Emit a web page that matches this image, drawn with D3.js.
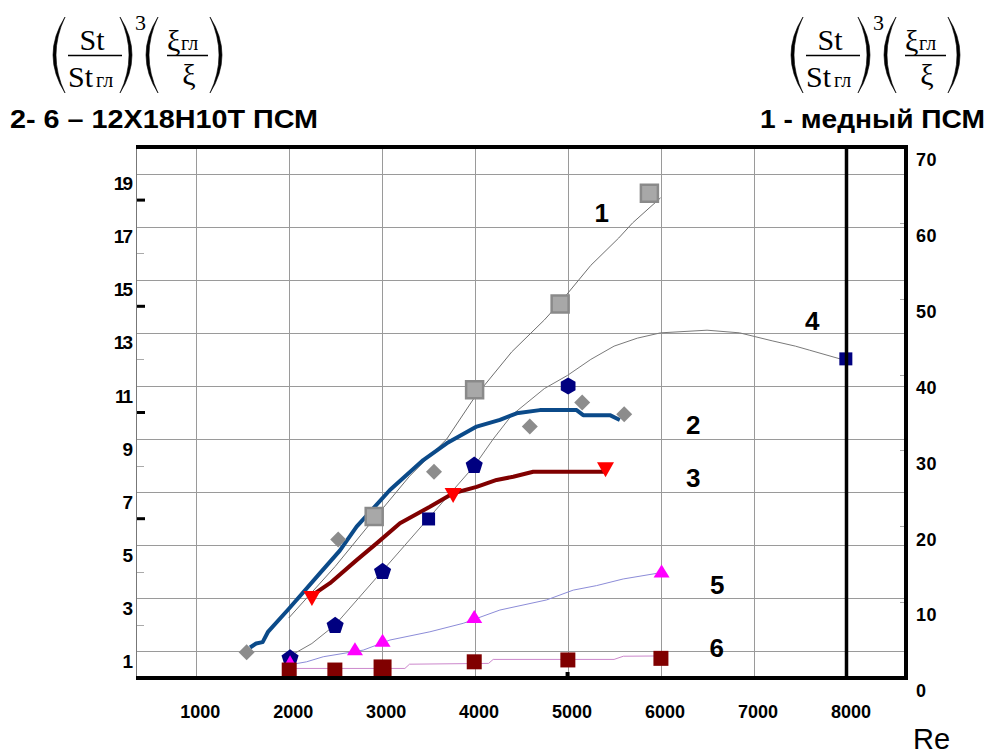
<!DOCTYPE html>
<html>
<head>
<meta charset="utf-8">
<script src="https://cdn.jsdelivr.net/npm/d3@7"></script>
<style>
  body { margin: 0; background: #fff; }
  svg { display: block; }
</style>
</head>
<body>
<div id="chart"></div>
<script>
// --- data ---
const reLabels = [1000, 2000, 3000, 4000, 5000, 6000, 7000, 8000];
const reGrid = [1000, 2000, 3000, 4000, 5000, 6000, 7000];
const leftTicks = [1, 3, 5, 7, 9, 11, 13, 15, 17, 19];
const leftMinorBold = [6, 10, 14, 18];
const leftMinorThin = [2, 4, 8, 12, 16];
const rightTicks = [0, 10, 20, 30, 40, 50, 60, 70];
const rightMinor = [10, 20, 30, 40, 50, 60];
const bottomMark = [5000];

// 1 - copper (right axis)
const curve1 = [[2000, 7.9], [2500, 14.7], [2920, 21.0], [3300, 26.6], [3700, 31.5], [4000, 37.0],
  [4400, 43.0], [4750, 47.2], [4920, 49.5], [5250, 54.4], [5550, 58.0], [5700, 60.0], [6000, 63.3]];
const points1 = [[2920, 21.3], [4000, 38.0], [4920, 49.3], [5880, 63.9]];

// 2..6 - steel (left axis)
const curve2 = [[1585, 1.15], [1650, 1.3], [1720, 1.35], [1780, 1.75], [2000, 2.6], [2337, 3.95],
  [2550, 4.8], [2731, 5.7], [3089, 7.08], [3448, 8.21], [3700, 8.84], [4022, 9.47], [4272, 9.72],
  [4452, 9.97], [4702, 10.09], [5097, 10.09], [5168, 9.9], [5455, 9.9], [5562, 9.72]];
const points2 = [[1548, 0.97], [2533, 5.22], [3563, 7.77], [4594, 9.47], [5157, 10.38], [5609, 9.93]];

const curve3 = [[2229, 3.06], [2444, 3.57], [2731, 4.44], [2946, 5.07], [3197, 5.83], [3519, 6.45],
  [3770, 6.96], [4022, 7.2], [4237, 7.46], [4415, 7.58], [4630, 7.77], [5408, 7.77]];
const points3 = [[2250, 3.05], [3769, 6.93], [5408, 7.9]];

const curve4 = [[2000, 0.8], [2250, 1.3], [2500, 2.0], [2750, 3.0], [3000, 4.0], [3250, 5.0],
  [3500, 6.0], [3750, 7.0], [4000, 8.0], [4200, 9.0], [4400, 9.9], [4750, 10.9], [5000, 11.4],
  [5250, 12.0], [5500, 12.5], [5750, 12.8], [6000, 13.0], [6500, 13.1], [6850, 13.0], [7200, 12.7],
  [7450, 12.5], [7600, 12.35], [8000, 11.95]];
const points4 = [[2015, 0.74], [2500, 1.97], [3010, 4.0], [3505, 5.99], [3996, 8.0], [5006, 11.0], [7993, 12.02]];
const marker4 = ['pentagon', 'pentagon', 'pentagon', 'square', 'pentagon', 'hexagon', 'square'];

const curve5 = [[2000, 0.49], [2193, 0.61], [2372, 0.8], [2802, 1.05], [3089, 1.43], [3519, 1.74],
  [3878, 2.06], [4272, 2.56], [4774, 2.94], [5061, 3.31], [5312, 3.48], [5598, 3.73], [5957, 3.94]];
const points5 = [[2015, 0.68], [2713, 1.05], [3010, 1.37], [3996, 2.27], [6011, 3.98]];

const curve6 = [[2000, 0.36], [3250, 0.36], [3300, 0.52], [4150, 0.55], [4200, 0.7], [5500, 0.7],
  [5600, 0.82], [6000, 0.83]];
const points6 = [[2006, 0.3], [2497, 0.3], [3010, 0.36], [3996, 0.61], [5003, 0.68], [6004, 0.74]];

const seriesLabels = [['1', 5367, 17.5], ['2', 6352, 9.53], ['3', 6352, 7.52], ['4', 7632, 13.46], ['5', 6610, 3.5], ['6', 6604, 1.14]];

// --- layout ---
const W = 990, H = 755;
const plot = {left: 136, right: 906, top: 147, bottom: 678};
const sans = '"Liberation Sans", Arial, sans-serif';
const serif = '"Liberation Serif", "Times New Roman", serif';

const svg = d3.select('#chart').append('svg').attr('width', W).attr('height', H);

const x = d3.scaleLinear().domain([358, 8640]).range([plot.left, plot.right]);
const yL = d3.scaleLinear().domain([0, 20]).range([plot.bottom, plot.top]);
const yR = d3.scaleLinear().domain([0, 70]).range([plot.bottom, plot.top]);

// grid
const grid = svg.append('g').attr('stroke', '#9a9a9a').attr('stroke-width', 1);
grid.selectAll('.h').data(leftTicks).join('line')
  .attr('x1', plot.left).attr('x2', plot.right)
  .attr('y1', d => Math.round(yL(d)) + 0.5).attr('y2', d => Math.round(yL(d)) + 0.5);
grid.selectAll('.v').data(reGrid).join('line')
  .attr('y1', plot.top).attr('y2', plot.bottom)
  .attr('x1', d => Math.round(x(d)) + 0.5).attr('x2', d => Math.round(x(d)) + 0.5);

// minor ticks
svg.append('g').selectAll('rect').data(leftMinorBold).join('rect')
  .attr('x', plot.left).attr('y', d => yL(d) - 1.5).attr('width', 9).attr('height', 3).attr('fill', '#000');
svg.append('g').selectAll('line').data(leftMinorThin).join('line')
  .attr('x1', plot.left).attr('x2', plot.left + 8)
  .attr('y1', d => Math.round(yL(d)) + 0.5).attr('y2', d => Math.round(yL(d)) + 0.5)
  .attr('stroke', '#aaa');
svg.append('g').selectAll('line').data(rightMinor).join('line')
  .attr('x1', plot.right - 6).attr('x2', plot.right)
  .attr('y1', d => Math.round(yR(d)) + 0.5).attr('y2', d => Math.round(yR(d)) + 0.5)
  .attr('stroke', '#aaa');
svg.append('g').selectAll('rect').data(bottomMark).join('rect')
  .attr('x', d => x(d) - 2).attr('y', plot.bottom - 6).attr('width', 4).attr('height', 6).attr('fill', '#000');

// curves
const lineL = d3.line().x(d => x(d[0])).y(d => yL(d[1]));
const lineR = d3.line().x(d => x(d[0])).y(d => yR(d[1]));
const curves = svg.append('g').attr('fill', 'none').attr('stroke-linejoin', 'round');
curves.append('path').attr('d', lineL(curve6)).attr('stroke', '#cc88cc').attr('stroke-width', 1);
curves.append('path').attr('d', lineL(curve5)).attr('stroke', '#8c8cd8').attr('stroke-width', 1);
curves.append('path').attr('d', lineL(curve4)).attr('stroke', '#7a7a7a').attr('stroke-width', 1);
curves.append('path').attr('d', lineR(curve1)).attr('stroke', '#6e6e6e').attr('stroke-width', 1);
curves.append('path').attr('d', lineL(curve3)).attr('stroke', '#800000').attr('stroke-width', 4);
curves.append('path').attr('d', lineL(curve2)).attr('stroke', '#0b4a89').attr('stroke-width', 4);

// marker shapes
function square(s) { const h = s / 2; return `M${-h},${-h}H${h}V${h}H${-h}Z`; }
function diamond(r) { return `M0,${-r}L${r},0L0,${r}L${-r},0Z`; }
function triUp(w, h) { return `M0,${-h * 0.6}L${w / 2},${h * 0.4}L${-w / 2},${h * 0.4}Z`; }
function triDown(w, h) { return `M0,${h * 0.6}L${w / 2},${-h * 0.4}L${-w / 2},${-h * 0.4}Z`; }
function polygon(n, r) {
  const pts = d3.range(n).map(i => {
    const a = -Math.PI / 2 + i * 2 * Math.PI / n;
    return [r * Math.cos(a), r * Math.sin(a)];
  });
  return 'M' + pts.map(p => p.join(',')).join('L') + 'Z';
}
const shape4 = {pentagon: polygon(5, 9), hexagon: polygon(6, 8.5), square: square(13)};

const marks = svg.append('g');
marks.selectAll('.p1').data(points1).join('path')
  .attr('transform', d => `translate(${x(d[0])},${yR(d[1])})`)
  .attr('d', square(17)).attr('fill', '#a8a8a8').attr('stroke', '#8a8a8a').attr('stroke-width', 2.5);
marks.selectAll('.p2').data(points2).join('path')
  .attr('transform', d => `translate(${x(d[0])},${yL(d[1])})`)
  .attr('d', diamond(8)).attr('fill', '#8c8c8c');
marks.selectAll('.p3').data(points3).join('path')
  .attr('transform', d => `translate(${x(d[0])},${yL(d[1])})`)
  .attr('d', triDown(17, 15)).attr('fill', '#ff0000');
marks.selectAll('.p4').data(points4).join('path')
  .attr('transform', d => `translate(${x(d[0])},${yL(d[1])})`)
  .attr('d', (d, i) => shape4[marker4[i]]).attr('fill', '#000080');
marks.selectAll('.p5').data(points5).join('path')
  .attr('transform', d => `translate(${x(d[0])},${yL(d[1])})`)
  .attr('d', (d, i) => i === 0 ? triUp(9, 8) : triUp(16, 13)).attr('fill', '#ff00ff');
marks.selectAll('.p6').data(points6).join('path')
  .attr('transform', d => `translate(${x(d[0])},${yL(d[1])})`)
  .attr('d', (d, i) => i === 2 ? square(18) : square(15)).attr('fill', '#800000');

// frame
const frame = svg.append('g');
frame.append('line').attr('x1', plot.left + 0.5).attr('x2', plot.left + 0.5)
  .attr('y1', plot.top).attr('y2', plot.bottom).attr('stroke', '#777').attr('stroke-width', 1);
frame.append('line').attr('x1', plot.left).attr('x2', plot.right + 2)
  .attr('y1', plot.top).attr('y2', plot.top).attr('stroke', '#000').attr('stroke-width', 4);
frame.append('line').attr('x1', plot.left).attr('x2', plot.right + 2)
  .attr('y1', plot.bottom).attr('y2', plot.bottom).attr('stroke', '#000').attr('stroke-width', 4);
frame.append('line').attr('x1', plot.right).attr('x2', plot.right)
  .attr('y1', plot.top - 2).attr('y2', plot.bottom + 2).attr('stroke', '#000').attr('stroke-width', 4);
frame.append('line').attr('x1', x(8000)).attr('x2', x(8000))
  .attr('y1', plot.top).attr('y2', plot.bottom).attr('stroke', '#000').attr('stroke-width', 3.5);

// axes (labels only)
function styleAxis(g) {
  g.select('.domain').remove();
  g.selectAll('text').attr('font-family', sans).attr('font-weight', 'bold')
    .attr('font-size', 18).attr('fill', '#000');
}
svg.append('g').attr('transform', `translate(${plot.left - 5},0)`)
  .call(d3.axisLeft(yL).tickValues(leftTicks).tickSize(0).tickPadding(0))
  .call(styleAxis)
  .call(g => g.selectAll('text').attr('y', 10).attr('font-size', 19).attr('letter-spacing', -2));
svg.append('g').attr('transform', `translate(${plot.right + 10},0)`)
  .call(d3.axisRight(yR).tickValues(rightTicks).tickSize(0).tickPadding(0))
  .call(styleAxis)
  .call(g => g.selectAll('text').attr('y', 13).attr('letter-spacing', 0.5));
svg.append('g').attr('transform', `translate(0,${plot.bottom})`)
  .call(d3.axisBottom(x).tickValues(reLabels).tickSize(0).tickPadding(27).tickFormat(d3.format('d')))
  .call(styleAxis)
  .call(g => g.selectAll('text').attr('x', 4).attr('letter-spacing', 0));

// series numbers
svg.append('g').selectAll('text').data(seriesLabels).join('text')
  .attr('x', d => x(d[1])).attr('y', d => yL(d[2]))
  .attr('text-anchor', 'middle').attr('dominant-baseline', 'central')
  .attr('font-family', sans).attr('font-weight', 'bold').attr('font-size', 26)
  .text(d => d[0]);

svg.append('text').attr('x', 913).attr('y', 749)
  .attr('font-family', sans).attr('font-size', 29).text('Re');

// headers
function paren(g, xt, y0, y1, dir) {
  const m = (y0 + y1) / 2;
  const c1 = xt - dir * 24, c2 = xt - dir * 18;
  g.append('path')
    .attr('d', `M${xt},${y0}Q${c1},${m} ${xt},${y1}Q${c2},${m} ${xt},${y0}Z`)
    .attr('fill', '#000').attr('stroke', '#000').attr('stroke-width', 0.6);
}
function formula(dx) {
  const g = svg.append('g').attr('transform', `translate(${dx},0)`)
    .attr('font-family', serif).attr('fill', '#000');
  paren(g, 65, 17, 93, 1);
  paren(g, 120, 17, 93, -1);
  paren(g, 158, 17, 93, 1);
  paren(g, 210, 17, 93, -1);
  g.append('text').attr('x', 92).attr('y', 50).attr('text-anchor', 'middle').attr('font-size', 30).text('St');
  g.append('line').attr('x1', 68).attr('x2', 122).attr('y1', 55.5).attr('y2', 55.5)
    .attr('stroke', '#000').attr('stroke-width', 1.5);
  g.append('text').attr('x', 68).attr('y', 87).attr('font-size', 30).text('St');
  g.append('text').attr('x', 96).attr('y', 87).attr('font-size', 20).text('гл');
  g.append('text').attr('x', 135).attr('y', 30).attr('font-size', 22).text('3');
  g.append('text').attr('x', 167).attr('y', 51).attr('font-size', 30).text('ξ');
  g.append('text').attr('x', 181).attr('y', 50).attr('font-size', 20).text('гл');
  g.append('line').attr('x1', 167).attr('x2', 208).attr('y1', 55.5).attr('y2', 55.5)
    .attr('stroke', '#000').attr('stroke-width', 1.5);
  g.append('text').attr('x', 189).attr('y', 85).attr('text-anchor', 'middle').attr('font-size', 30).text('ξ');
}
formula(0);
formula(738);

svg.append('text').attr('x', 10).attr('y', 128)
  .attr('font-family', sans).attr('font-weight', 'bold').attr('font-size', 26)
  .attr('textLength', 308).attr('lengthAdjust', 'spacingAndGlyphs')
  .text('2- 6 – 12Х18Н10Т ПСМ');
svg.append('text').attr('x', 760).attr('y', 128)
  .attr('font-family', sans).attr('font-weight', 'bold').attr('font-size', 26)
  .attr('textLength', 225).attr('lengthAdjust', 'spacingAndGlyphs')
  .text('1 - медный ПСМ');
</script>
</body>
</html>
